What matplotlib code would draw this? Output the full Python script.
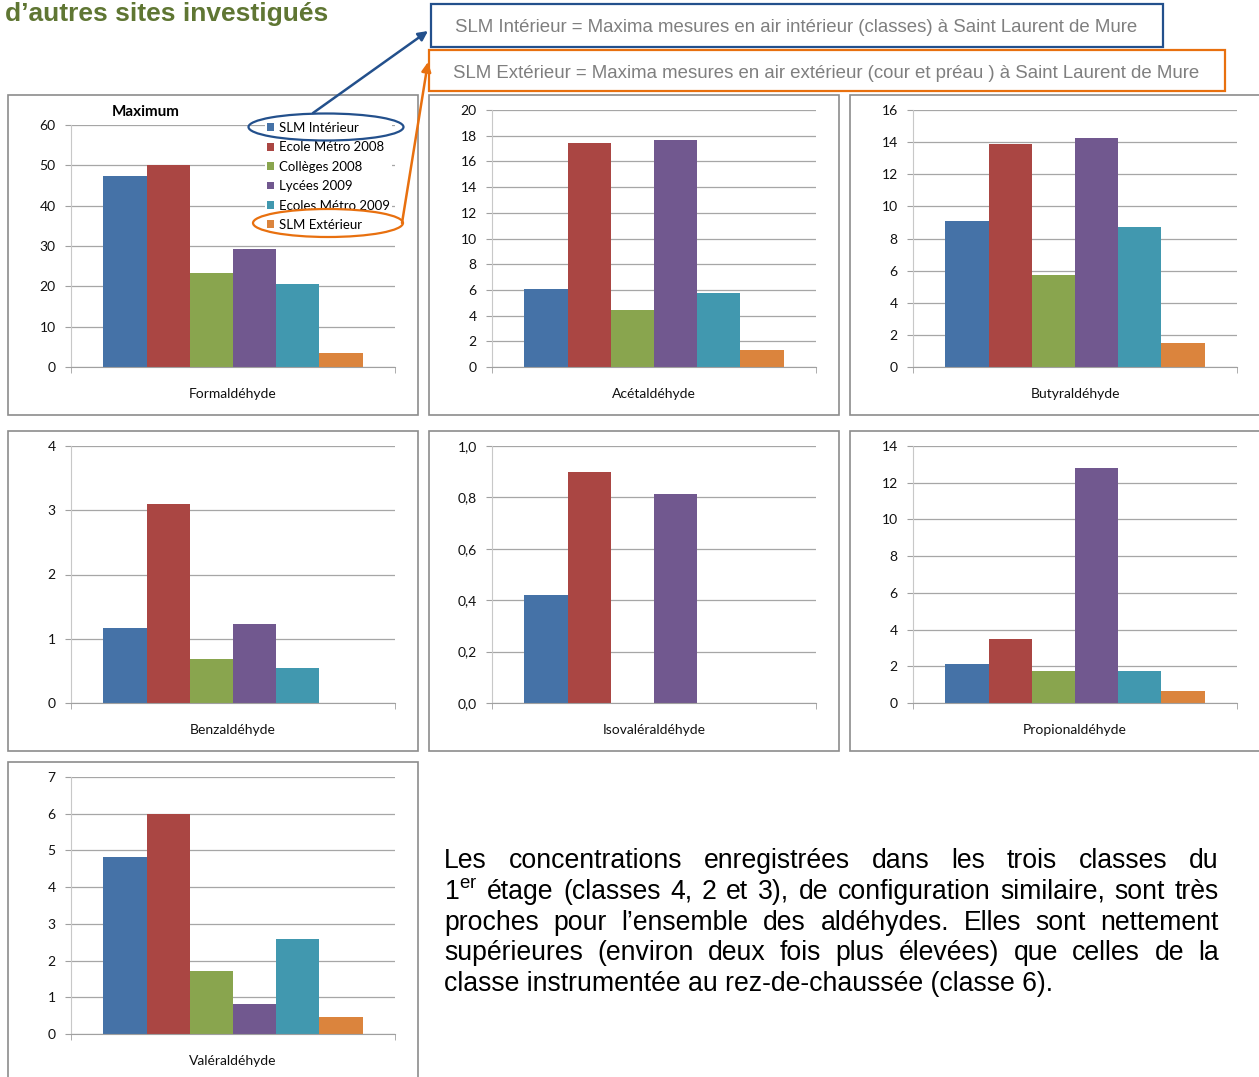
import numpy as np
import matplotlib
matplotlib.use("Agg")
import matplotlib.pyplot as plt
from matplotlib.patches import Patch, Rectangle, Ellipse, FancyArrowPatch

# data
compounds = ["Formaldéhyde", "Acétaldéhyde", "Butyraldéhyde", "Benzaldéhyde",
             "Isovaléraldéhyde", "Propionaldéhyde", "Valéraldéhyde"]
series_names = ["SLM Intérieur", "Ecole Métro 2008", "Collèges 2008",
                "Lycées 2009", "Ecoles Métro 2009", "SLM Extérieur"]
slm_interieur = [47.4, 6.1, 9.1, 1.17, 0.42, 2.13, 4.82]
ecole_metro_2008 = [50.0, 17.45, 13.9, 3.09, 0.90, 3.5, 5.98]
colleges_2008 = [23.3, 4.4, 5.7, 0.68, np.nan, 1.77, 1.72]
lycees_2009 = [29.3, 17.7, 14.25, 1.23, 0.815, 12.8, 0.81]
ecoles_metro_2009 = [20.6, 5.75, 8.73, 0.55, np.nan, 1.77, 2.58]
slm_exterieur = [3.5, 1.3, 1.52, np.nan, np.nan, 0.64, 0.47]
y_max = [60, 20, 16, 4, 1.0, 14, 7]
y_step = [10, 2, 2, 1, 0.2, 2, 1]

series = [slm_interieur, ecole_metro_2008, colleges_2008,
          lycees_2009, ecoles_metro_2009, slm_exterieur]
colors = ["#4572A7", "#AA4643", "#89A54E", "#71588F", "#4198AF", "#DB843D"]

paragraph = [
    "Les concentrations enregistrées dans les trois classes du",
    "1$^{\\mathrm{er}}$ étage (classes 4, 2 et 3), de configuration similaire, sont très",
    "proches pour l’ensemble des aldéhydes. Elles sont nettement",
    "supérieures (environ deux fois plus élevées) que celles de la",
    "classe instrumentée au rez-de-chaussée (classe 6).",
]

plt.rcParams["mathtext.fontset"] = "custom"
plt.rcParams["mathtext.rm"] = "Liberation Sans"

W, H = 1259, 1077
fig = plt.figure(figsize=(W / 100, H / 100), dpi=100)


def fx(px):
    return px / W


def fy(py):
    return 1 - py / H


def rect(l, t, r, b):
    return [l / W, 1 - b / H, (r - l) / W, (b - t) / H]


chart_font = "Lato"
origins = [(8, 95), (429, 95), (850, 95), (8, 431), (429, 431), (850, 431), (8, 762)]
bar_w = 0.8 / len(series)

for i, (ox, oy) in enumerate(origins):
    # panel frame
    fig.patches.append(Rectangle((fx(ox), fy(oy + 320)), 410 / W, 320 / H,
                                 transform=fig.transFigure, fill=False,
                                 edgecolor="#8c8c8c", lw=1.2))
    top = oy + (30 if i == 0 else 15)
    ax = fig.add_axes(rect(ox + 63, top, ox + 387, oy + 272))
    for j, vals in enumerate(series):
        v = vals[i]
        if not np.isnan(v):
            ax.bar(0.1 + j * bar_w, v, width=bar_w, align="edge",
                   color=colors[j], zorder=2)
    ax.set_xlim(0, 1)
    ax.set_ylim(0, y_max[i])
    ticks = np.arange(0, y_max[i] + y_step[i] / 2, y_step[i])
    ax.set_yticks(ticks)
    if i == 4:
        ax.set_yticklabels([f"{t:.1f}".replace(".", ",") for t in ticks])
    else:
        ax.set_yticklabels([f"{t:g}" for t in ticks])
    ax.set_xticks([0.5])
    ax.set_xticklabels([compounds[i]])
    ax.set_xticks([0, 1], minor=True)
    ax.tick_params(axis="x", which="major", length=0, pad=15)
    ax.tick_params(axis="x", which="minor", length=4, color="#a0a0a0")
    ax.tick_params(axis="y", length=4, color="#a0a0a0", pad=7)
    for lab in ax.get_xticklabels() + ax.get_yticklabels():
        lab.set_fontfamily(chart_font)
        lab.set_fontsize(10)
        lab.set_color("#111111")
    ax.yaxis.grid(True, color="#a6a6a6", lw=0.9, zorder=0)
    ax.set_axisbelow(True)
    ax.spines["top"].set_visible(False)
    ax.spines["right"].set_visible(False)
    ax.spines["left"].set_color("#c8c8c8")
    ax.spines["bottom"].set_color("#a0a0a0")

    if i == 0:
        handles = [Patch(facecolor=c) for c in colors]
        leg = ax.legend(handles, series_names, loc="upper left",
                        bbox_to_anchor=(fx(265), fy(120)),
                        bbox_transform=fig.transFigure,
                        prop={"family": chart_font, "size": 9.5},
                        frameon=True, facecolor="white", edgecolor="none",
                        framealpha=1, borderpad=0.15, handlelength=0.55,
                        handleheight=0.55, handletextpad=0.35,
                        labelspacing=0.56, borderaxespad=0)
        leg.set_zorder(5)
        fig.text(fx(146), fy(112), "Maximum", ha="center", va="center",
                 fontfamily=chart_font, fontsize=11, fontweight="bold")

# title
fig.text(fx(5), fy(21), "d’autres sites investigués", ha="left", va="baseline",
         fontfamily="Liberation Sans", fontsize=19, fontweight="bold",
         color="#5f7633")

# legend boxes
blue = "#23508c"
orange = "#e8700f"
fig.patches.append(Rectangle((fx(431), fy(47)), 732 / W, 43 / H,
                             transform=fig.transFigure, facecolor="white",
                             edgecolor=blue, lw=1.6))
fig.text(fx(455), fy(28), "SLM Intérieur = Maxima mesures en air intérieur (classes) à Saint Laurent de Mure",
         ha="left", va="center", fontfamily="Liberation Sans", fontsize=13.4,
         color="#7f7f7f")
fig.patches.append(Rectangle((fx(429), fy(91)), 796 / W, 41 / H,
                             transform=fig.transFigure, facecolor="white",
                             edgecolor=orange, lw=1.6))
fig.text(fx(453), fy(73), "SLM Extérieur = Maxima mesures en air extérieur (cour et préau ) à Saint Laurent de Mure",
         ha="left", va="center", fontfamily="Liberation Sans", fontsize=13.4,
         color="#7f7f7f")

# ellipses and arrows
fig.patches.append(Ellipse((fx(326), fy(127)), 155 / W, 27 / H,
                           transform=fig.transFigure, fill=False,
                           edgecolor=blue, lw=1.6, zorder=6))
fig.patches.append(Ellipse((fx(328), fy(223)), 150 / W, 28 / H,
                           transform=fig.transFigure, fill=False,
                           edgecolor=orange, lw=1.6, zorder=6))
fig.patches.append(FancyArrowPatch((fx(313), fy(113)), (fx(428), fy(31)),
                                   transform=fig.transFigure,
                                   arrowstyle="-|>", mutation_scale=14,
                                   color=blue, lw=1.8, shrinkA=0, shrinkB=0,
                                   zorder=6))
fig.patches.append(FancyArrowPatch((fx(402), fy(223)), (fx(428), fy(62)),
                                   transform=fig.transFigure,
                                   arrowstyle="-|>", mutation_scale=14,
                                   color=orange, lw=1.8, shrinkA=0, shrinkB=0,
                                   zorder=6))

# justified paragraph
renderer = fig.canvas.get_renderer()
x_left, x_right = 444, 1219
base0, line_h = 868, 30.8
para_kw = dict(fontfamily="Liberation Sans", fontsize=19.2, color="black",
               va="baseline", ha="left")
for k, line in enumerate(paragraph):
    yb = fy(base0 + k * line_h)
    if k == len(paragraph) - 1:
        fig.text(fx(x_left), yb, line, **para_kw)
        continue
    words = line.split(" ")
    texts = [fig.text(0, yb, w, **para_kw) for w in words]
    widths = [t.get_window_extent(renderer).width for t in texts]
    gap = (x_right - x_left - sum(widths)) / (len(words) - 1)
    x = x_left
    for t, wdt in zip(texts, widths):
        t.set_x(fx(x))
        x += wdt + gap

fig.savefig("out.png", dpi=100, facecolor="white")
